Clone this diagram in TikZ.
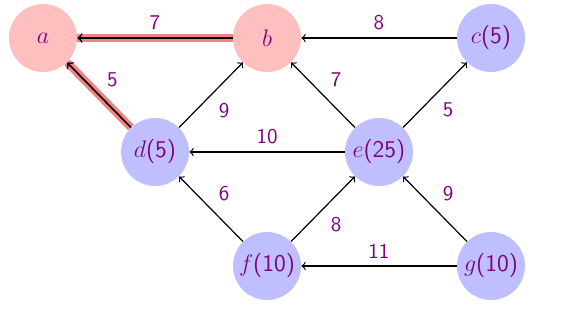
\documentclass[tikz,border=0pt]{standalone}
\usetikzlibrary{positioning}
\definecolor{lilac}{HTML}{BFBFFF}
\definecolor{rose}{HTML}{FFBFBF}
\definecolor{band}{HTML}{F28282}
\definecolor{plum}{HTML}{800080}
\tikzset{vertex/.style={circle,fill=lilac,minimum size=34pt,inner sep=0pt,text=plum,font=\sffamily\fontsize{12}{14}\selectfont},done/.style={vertex,fill=rose},link/.style={draw=black,semithick,->},best/.style={draw=band,line width=4pt},wt/.style={text=plum,font=\sffamily\fontsize{10.5}{12}\selectfont,inner sep=3.6pt}}

\begin{document}
\begin{tikzpicture}[node distance=57pt and 56pt,on grid]
\useasboundingbox (-21.5pt,19pt) rectangle (266pt,-138.5pt);
\node[done] (a) {$a$};
\node[done,right=112pt of a] (b) {$b$};
\node[vertex,right=112pt of b] (c) {$c$(5)};
\node[vertex,below right=of a] (d) {$d$(5)};
\node[vertex,below right=of b] (e) {$e$(25)};
\node[vertex,below right=of d] (f) {$f$(10)};
\node[vertex,below right=of e] (g) {$g$(10)};
% shortest path
\draw[best] (b)--(a);
\draw[best] (d)--(a);
\draw[link,thick] (b)-- node[wt,above] {7} (a);
\draw[link,thick] (d)-- node[wt,above right] {5} (a);
\foreach \u/\v/\w/\p in {c/b/8/above,d/b/9/below right,e/d/10/above,e/b/7/above right,e/c/5/below right,f/d/6/above right,f/e/8/below right,g/e/9/above right,g/f/11/above}\draw[link] (\u)-- node[wt,\p] {\w} (\v);
\end{tikzpicture}
\end{document}
